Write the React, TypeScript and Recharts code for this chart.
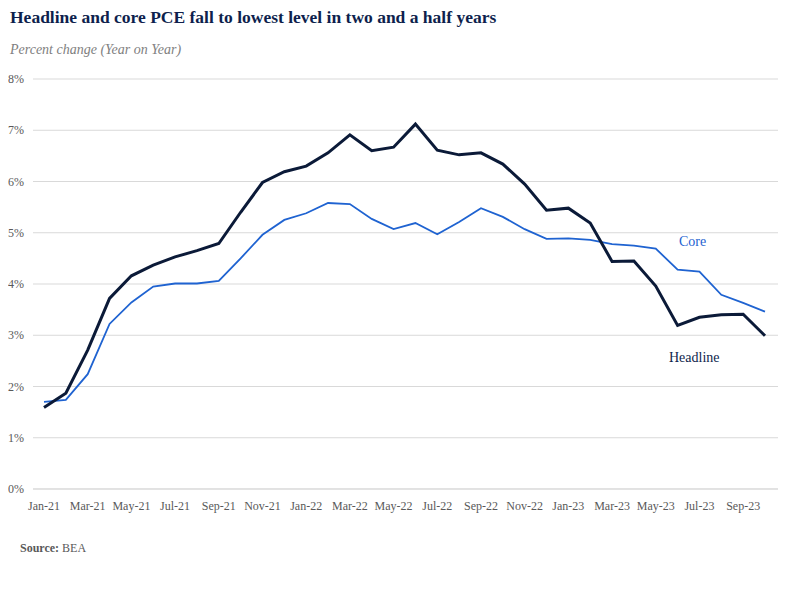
import { LineChart, Line, XAxis, YAxis, CartesianGrid } from 'recharts'

const months = [
  'Jan-21', 'Feb-21', 'Mar-21', 'Apr-21', 'May-21', 'Jun-21', 'Jul-21', 'Aug-21', 'Sep-21', 'Oct-21', 'Nov-21', 'Dec-21',
  'Jan-22', 'Feb-22', 'Mar-22', 'Apr-22', 'May-22', 'Jun-22', 'Jul-22', 'Aug-22', 'Sep-22', 'Oct-22', 'Nov-22', 'Dec-22',
  'Jan-23', 'Feb-23', 'Mar-23', 'Apr-23', 'May-23', 'Jun-23', 'Jul-23', 'Aug-23', 'Sep-23', 'Oct-23',
]

const headline = [
  1.59, 1.87, 2.71, 3.72, 4.16, 4.37, 4.53, 4.65, 4.79, 5.4, 5.98, 6.19,
  6.3, 6.56, 6.91, 6.6, 6.67, 7.12, 6.61, 6.52, 6.56, 6.34, 5.95, 5.44,
  5.48, 5.19, 4.44, 4.45, 3.96, 3.19, 3.35, 3.4, 3.41, 2.99,
]

const core = [
  1.7, 1.74, 2.24, 3.22, 3.64, 3.95, 4.01, 4.01, 4.06, 4.5, 4.96, 5.25,
  5.38, 5.58, 5.56, 5.27, 5.07, 5.19, 4.97, 5.21, 5.48, 5.31, 5.07, 4.88,
  4.89, 4.86, 4.78, 4.75, 4.69, 4.28, 4.24, 3.79, 3.63, 3.46,
]

const yTicks = [0, 1, 2, 3, 4, 5, 6, 7, 8]

const data = months.map((m, i) => ({ month: m, headline: headline[i], core: core[i] }))

const serif = '"Liberation Serif", "Times New Roman", serif'

function XTick({ x, y, payload }: any) {
  return (
    <text x={x} y={y + 13} textAnchor="middle" fontSize={12} fill="#595959" fontFamily={serif}>
      {payload.value}
    </text>
  )
}

function YTick({ x, y, payload }: any) {
  return (
    <text x={x} y={y + 4} textAnchor="end" fontSize={12} fill="#595959" fontFamily={serif}>
      {`${payload.value}%`}
    </text>
  )
}

export default function App() {
  return (
    <div style={{ position: 'relative', width: 806, height: 589, margin: -8, background: '#fff', fontFamily: serif }}>
      <div style={{ position: 'absolute', left: 10, top: 7, fontSize: 17.5, fontWeight: 'bold', color: '#0e1f4d' }}>
        Headline and core PCE fall to lowest level in two and a half years
      </div>
      <div style={{ position: 'absolute', left: 10, top: 42, fontSize: 14, fontStyle: 'italic', color: '#808080' }}>
        Percent change (Year on Year)
      </div>
      <LineChart
        width={806}
        height={589}
        data={data}
        margin={{ top: 79, right: 28, bottom: 70, left: 8 }}
        style={{ position: 'absolute', left: 0, top: 0, fontFamily: serif }}
      >
        <CartesianGrid vertical={false} stroke="#d9d9d9" />
        <XAxis
          dataKey="month"
          interval={1}
          padding={{ left: 11, right: 13 }}
          axisLine={{ stroke: '#d9d9d9' }}
          tickLine={false}
          tick={<XTick />}
          height={30}
        />
        <YAxis
          width={25}
          domain={[0, 8]}
          ticks={yTicks}
          axisLine={false}
          tickLine={false}
          tick={<YTick />}
          tickMargin={3}
        />
        <Line dataKey="core" stroke="#1f63d1" strokeWidth={1.8} dot={false} isAnimationActive={false} />
        <Line dataKey="headline" stroke="#0b1a38" strokeWidth={3} dot={false} isAnimationActive={false} />
      </LineChart>
      <div style={{ position: 'absolute', left: 679, top: 234, fontSize: 14, color: '#1f63d1' }}>Core</div>
      <div style={{ position: 'absolute', left: 669, top: 350, fontSize: 14, color: '#0e1f4d' }}>Headline</div>
      <div style={{ position: 'absolute', left: 20, top: 541, fontSize: 12, color: '#595959' }}>
        <b>Source:</b> BEA
      </div>
    </div>
  )
}
